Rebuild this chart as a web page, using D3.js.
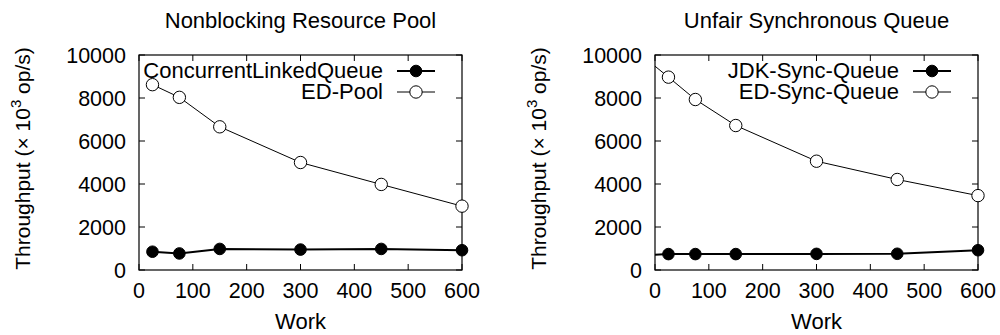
<!DOCTYPE html>
<html>
<head>
<meta charset="utf-8">
<script src="https://cdn.jsdelivr.net/npm/d3@7"></script>
<style>
  body { margin: 0; background: #fff; }
  svg text { font-family: "Liberation Sans", Arial, sans-serif; fill: #000; }
</style>
</head>
<body>
<div class="container-chart"></div>
<script>
/* data */
const workLeft = [25, 75, 150, 300, 450, 600];
const clqValues = [850, 770, 980, 950, 980, 920];
const edPoolValues = [8620, 8030, 6660, 5000, 3980, 2970];

// the right panel lines start at the left border (no marker there)
const workRight = [0, 25, 75, 150, 300, 450, 600];
const jdkValues = [710, 740, 740, 740, 750, 755, 920];
const edSyncValues = [9480, 8970, 7930, 6720, 5060, 4210, 3460];

const xTicks = [0, 100, 200, 300, 400, 500, 600];
const yTicks = [0, 2000, 4000, 6000, 8000, 10000];

const panels = [
    { title: "Nonblocking Resource Pool", left: 139, work: workLeft,
      series: [
        { name: "ConcurrentLinkedQueue", values: clqValues, filled: true },
        { name: "ED-Pool", values: edPoolValues, filled: false }
      ] },
    { title: "Unfair Synchronous Queue", left: 655, work: workRight,
      series: [
        { name: "JDK-Sync-Queue", values: jdkValues, filled: true },
        { name: "ED-Sync-Queue", values: edSyncValues, filled: false }
      ] }
];

const width = 1000, height = 335;
const plotW = 323, plotTop = 55, plotH = 215;
const tickFont = 21.5, labelFont = 22;

const svg = d3.select(".container-chart")
    .append("svg")
    .attr("width", width)
    .attr("height", height);

function drawPanel(p) {
    const g = svg.append("g").attr("transform", `translate(${p.left},${plotTop})`);

    const x = d3.scaleLinear().domain([0, 600]).range([0, plotW]);
    const y = d3.scaleLinear().domain([0, 10000]).range([plotH, 0]);

    // ticks (inward, mirrored)
    const tickLen = 6;
    xTicks.forEach(function (t) {
        g.append("line").attr("x1", x(t)).attr("x2", x(t))
            .attr("y1", plotH).attr("y2", plotH - tickLen)
            .attr("stroke", "#000");
        g.append("line").attr("x1", x(t)).attr("x2", x(t))
            .attr("y1", 0).attr("y2", tickLen)
            .attr("stroke", "#000");
        g.append("text")
            .attr("x", x(t)).attr("y", plotH + 28)
            .attr("text-anchor", "middle")
            .style("font-size", tickFont + "px")
            .text(t);
    });
    yTicks.forEach(function (t) {
        g.append("line").attr("x1", 0).attr("x2", tickLen)
            .attr("y1", y(t)).attr("y2", y(t))
            .attr("stroke", "#000");
        g.append("line").attr("x1", plotW).attr("x2", plotW - tickLen)
            .attr("y1", y(t)).attr("y2", y(t))
            .attr("stroke", "#000");
        g.append("text")
            .attr("x", -13).attr("y", y(t) + 7.5)
            .attr("text-anchor", "end")
            .style("font-size", tickFont + "px")
            .text(t);
    });

    g.append("rect")
        .attr("width", plotW).attr("height", plotH)
        .attr("fill", "none").attr("stroke", "#000").attr("stroke-width", 1.2);

    // titles
    g.append("text")
        .attr("x", plotW / 2).attr("y", -27)
        .attr("text-anchor", "middle")
        .style("font-size", labelFont + "px")
        .text(p.title);
    g.append("text")
        .attr("x", plotW / 2).attr("y", plotH + 59)
        .attr("text-anchor", "middle")
        .style("font-size", labelFont + "px")
        .text("Work");
    const yl = g.append("text")
        .attr("transform", `translate(${-109},${plotH / 2 - 4}) rotate(-90)`)
        .attr("text-anchor", "middle")
        .style("font-size", (labelFont - 1) + "px");
    yl.append("tspan").text("Throughput (\u00d7 10");
    yl.append("tspan").attr("dy", -9).style("font-size", "15px").text("3");
    yl.append("tspan").attr("dy", 9).text(" op/s)");

    const line = d3.line()
        .x(function (d) { return x(d.w); })
        .y(function (d) { return y(d.v); });

    p.series.forEach(function (s, si) {
        const pts = p.work.map(function (w, i) { return { w: w, v: s.values[i] }; });
        g.append("path")
            .datum(pts)
            .attr("d", line)
            .attr("fill", "none")
            .attr("stroke", "#000")
            .attr("stroke-width", s.filled ? 2 : 1);
        g.selectAll(null)
            .data(pts.filter(function (d) { return d.w > 0; }))
            .enter().append("circle")
            .attr("cx", function (d) { return x(d.w); })
            .attr("cy", function (d) { return y(d.v); })
            .attr("r", s.filled ? 5.8 : 6.2)
            .attr("fill", s.filled ? "#000" : "#fff")
            .attr("stroke", "#000")
            .attr("stroke-width", 1);

        // legend
        const ly = 16 + si * 21;
        const lx = plotW - 79;
        g.append("text")
            .attr("x", lx).attr("y", ly + 7)
            .attr("text-anchor", "end")
            .style("font-size", labelFont + "px")
            .text(s.name);
        g.append("line")
            .attr("x1", lx + 14).attr("x2", lx + 52)
            .attr("y1", ly).attr("y2", ly)
            .attr("stroke", "#000")
            .attr("stroke-width", s.filled ? 2 : 1);
        g.append("circle")
            .attr("cx", lx + 33).attr("cy", ly)
            .attr("r", s.filled ? 5.8 : 6.2)
            .attr("fill", s.filled ? "#000" : "#fff")
            .attr("stroke", "#000");
    });
}

panels.forEach(drawPanel);
</script>
</body>
</html>
